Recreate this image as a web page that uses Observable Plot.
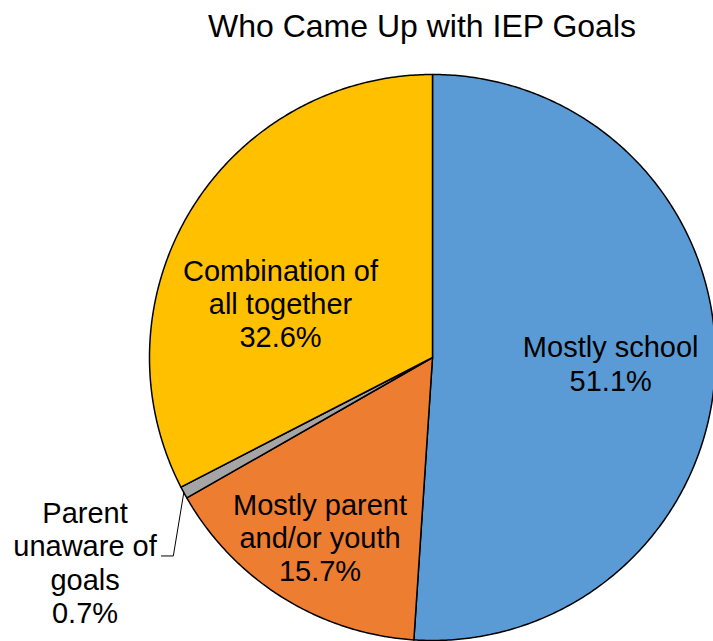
<!DOCTYPE html>
<html>
<head>
<meta charset="utf-8">
<script src="https://cdn.jsdelivr.net/npm/d3@7"></script>
<script src="https://cdn.jsdelivr.net/npm/@observablehq/plot@0.6"></script>
<style>
  html, body { margin: 0; padding: 0; background: #fff; }
  #chart svg { display: block; }
</style>
</head>
<body>
<div id="chart"></div>
<script>
// ---- data ----
const title = "Who Came Up with IEP Goals";
const categories = ["Mostly school", "Mostly parent and/or youth", "Parent unaware of goals", "Combination of all together"];
const values = [51.1, 15.7, 0.7, 32.6];
const labelLines = ["Mostly school", "Mostly parent\nand/or youth", "Parent\nunaware of\ngoals", "Combination of\nall together"];
const colors = ["#5B9BD5", "#ED7D31", "#A5A5A5", "#FFC000"];

// ---- layout (label placement, relative to each slice) ----
const labelRadius = [0.63, 0.75, 1.425, 0.57];   // fraction of pie radius
const labelAngleShift = [0, 0, -2, -11.8];        // degrees, clockwise
const W = 713, H = 641, R = 283, CX = 432, CY = 357;

const total = d3.sum(values);
let cum = 0;
const slices = values.map((v, i) => {
  const a0 = cum / total * 2 * Math.PI;
  cum += v;
  const a1 = cum / total * 2 * Math.PI;
  return {i, name: categories[i], v, a0, a1, mid: (a0 + a1) / 2};
});

// polygon outline points for each slice (unit circle, clockwise from top)
const polyPts = slices.flatMap(s => {
  const n = Math.max(2, Math.ceil((s.a1 - s.a0) / (Math.PI / 360)));
  const pts = [{x: 0, y: 0, c: s.name}];
  for (let k = 0; k <= n; k++) {
    const a = s.a0 + (s.a1 - s.a0) * k / n;
    pts.push({x: Math.sin(a), y: Math.cos(a), c: s.name});
  }
  pts.push({x: 0, y: 0, c: s.name});
  return pts;
});

const labels = slices.map(s => {
  const a = s.mid + labelAngleShift[s.i] * Math.PI / 180;
  const r = labelRadius[s.i];
  return {x: r * Math.sin(a), y: r * Math.cos(a), text: labelLines[s.i] + "\n" + s.v.toFixed(1) + "%"};
});

// leader line for the small outside label
const small = slices[2];
const lab = labels[2];
const leader = [
  {x: Math.sin(small.mid), y: Math.cos(small.mid)},
  {x: lab.x + 0.312, y: lab.y + 0.022},
  {x: lab.x + 0.270, y: lab.y + 0.022}
];

const chart = Plot.plot({
  width: W,
  height: H,
  margin: 0,
  x: {domain: [-CX / R, (W - CX) / R], axis: null},
  y: {domain: [-(H - CY) / R, CY / R], axis: null},
  color: {domain: categories, range: colors},
  style: {fontFamily: "'Liberation Sans', Arial, sans-serif", background: "#fff"},
  marks: [
    Plot.line(polyPts, {x: "x", y: "y", z: "c", fill: "c", stroke: "black", strokeWidth: 1.5, strokeLinejoin: "round", curve: "linear"}),
    Plot.line(leader, {x: "x", y: "y", stroke: "black", strokeWidth: 1}),
    Plot.text(labels, {x: "x", y: "y", text: "text", fontSize: 29, lineHeight: 1.15, lineAnchor: "middle", textAnchor: "middle", fill: "black"}),
    Plot.text([title], {frameAnchor: "top", dx: 65, dy: 14, lineAnchor: "top", fontSize: 32, fill: "black"})
  ]
});
document.getElementById("chart").appendChild(chart);
</script>
</body>
</html>
